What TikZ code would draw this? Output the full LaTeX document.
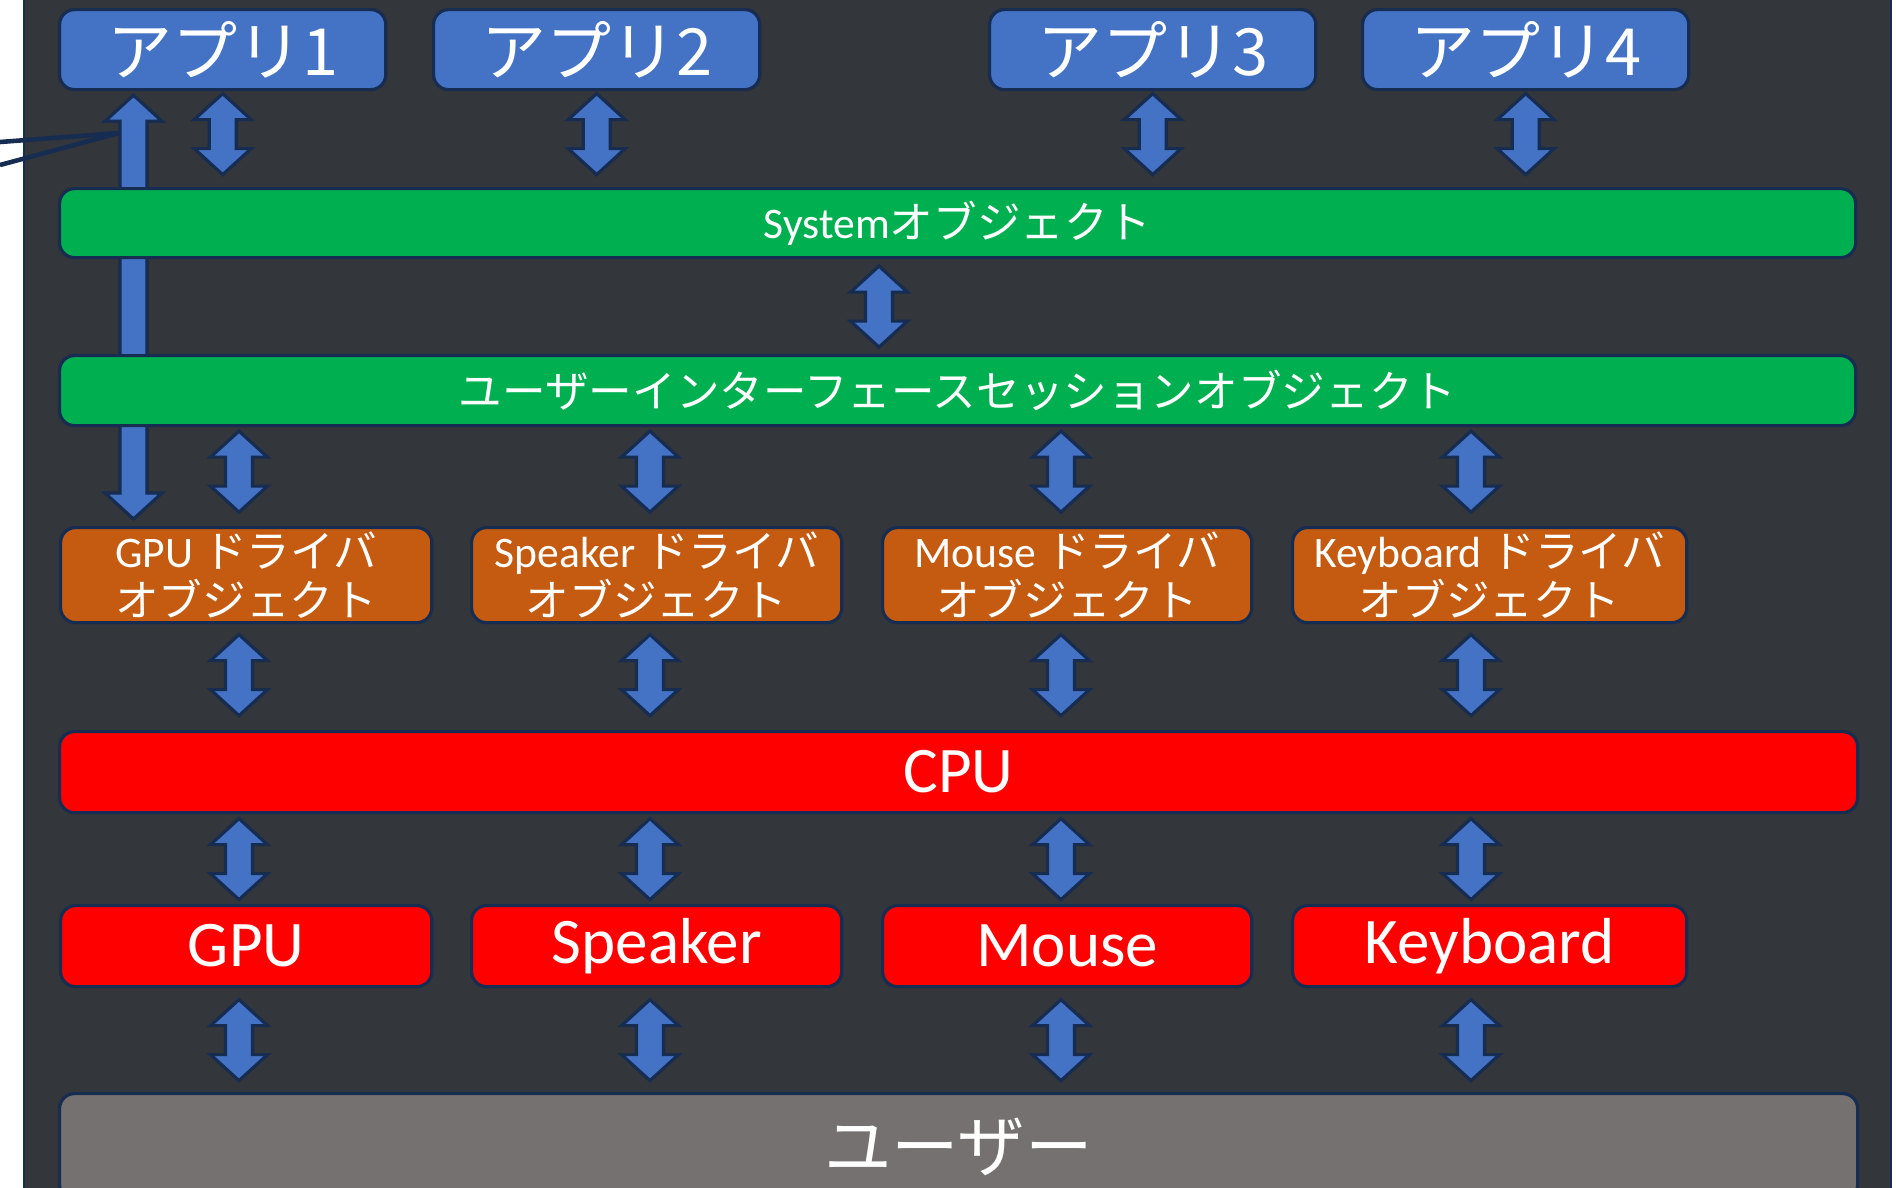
\documentclass[tikz,border=0pt]{standalone}
\usepackage{fontspec}
\setmainfont{Carlito}
\newfontfamily\jp{Noto Sans CJK JP}
\usetikzlibrary{calc}
\usetikzlibrary{positioning}

\definecolor{slate}{HTML}{33363A}
\definecolor{navy}{HTML}{172C51}
\definecolor{appblue}{HTML}{4472C4}
\definecolor{objgreen}{HTML}{00B050}
\definecolor{drvorange}{HTML}{C55A11}
\definecolor{hwred}{HTML}{FF0000}
\definecolor{usergray}{HTML}{767171}

\pgfdeclarelayer{background}
\pgfsetlayers{background,main}

\tikzset{
  box/.style={draw=navy, line width=0.9pt, rounded corners=0.15cm, inner sep=0pt, anchor=north west, text=white},
  appbox/.style={box, fill=appblue, minimum width=3.26cm, minimum height=0.8cm, font=\fontsize{18.5}{20}\selectfont\jp},
  objbar/.style={box, fill=objgreen, minimum width=17.95cm, minimum height=0.69cm, font=\fontsize{12.4}{14}\selectfont},
  drvbox/.style={box, fill=drvorange, minimum height=0.95cm, align=center, font=\fontsize{12.4}{13.9}\selectfont},
  hwbox/.style={box, fill=hwred, minimum height=0.81cm, font=\fontsize{18.5}{20}\selectfont},
  blockarrow/.style={fill=appblue, draw=navy, line width=0.9pt, line join=miter},
}

% up-down block arrow in the gap between two nodes, on the column of #2
\newcommand{\updown}[4][0]{%
  \coordinate (m) at ($(#2 |- #3.south)!.5!(#2 |- #4.north)$);
  \filldraw[blockarrow] ($(m)+(0,#1-40.5)$) -- ++(28.5,26) -- ++(-15,0) -- ++(0,29) -- ++(15,0)
    -- ++(-28.5,26) -- ++(-28.5,-26) -- ++(15,0) -- ++(0,-29) -- ++(-15,0) -- cycle;
}

\begin{document}
\begin{tikzpicture}[x=0.01cm, y=-0.01cm]
\useasboundingbox (0,0) rectangle (1896,1187);
\clip (0,0) rectangle (1896,1187);

% applications
\node[appbox] (app1) at (58,8) {アプリ1};
\node[appbox] (app2) at (432,8) {アプリ2};
\node[appbox] (app3) at (988,8) {アプリ3};
\node[appbox] (app4) at (1361,8) {アプリ4};

% objects
\node[objbar] (sys) at (58,187) {System{\jp オブジェクト}};
\node[objbar, minimum height=0.70cm, font=\fontsize{12.4}{14}\selectfont\jp] (ui) at (58,354) {ユーザーインターフェースセッションオブジェクト};

% drivers
\node[drvbox, minimum width=3.71cm] (gpudrv) at (59,526) {GPU {\jp ドライバ}\\{\jp オブジェクト}};
\node[drvbox, minimum width=3.70cm] (spkdrv) at (470,526) {Speaker {\jp ドライバ}\\{\jp オブジェクト}};
\node[drvbox, minimum width=3.69cm] (msedrv) at (881,526) {Mouse {\jp ドライバ}\\{\jp オブジェクト}};
\node[drvbox, minimum width=3.94cm] (kbddrv) at (1291,526) {Keyboard {\jp ドライバ}\\{\jp オブジェクト}};

% hardware
\node[hwbox, minimum width=17.97cm] (cpu) at (58,730) {CPU};
\node[hwbox, minimum width=3.71cm] (gpu) at (59,904) {GPU};
\node[hwbox, minimum width=3.70cm] (spk) at (470,904) {Speaker};
\node[hwbox, minimum width=3.69cm] (mse) at (881,904) {Mouse};
\node[hwbox, minimum width=3.94cm] (kbd) at (1291,904) {Keyboard};

\node[box, fill=usergray, minimum width=17.97cm, minimum height=1.06cm, font=\fontsize{19.2}{21}\selectfont\jp] (user) at (58,1092) {ユーザー};

% arrow columns
\coordinate (c1) at ($(gpudrv.north west)+(180,0)$);
\coordinate (c2) at ($(spkdrv.north west)+(180,0)$);
\coordinate (c3) at ($(msedrv.north west)+(180,0)$);
\coordinate (c4) at ($(kbddrv.north west)+(180,0)$);
\coordinate (mid) at (879,0);
\coordinate (link) at (133.5,0);

\foreach \a in {app1,app2,app3,app4} \updown[-5]{\a}{\a}{sys};
\updown{mid}{sys}{ui};
\foreach \c/\d/\h in {c1/gpudrv/gpu, c2/spkdrv/spk, c3/msedrv/mse, c4/kbddrv/kbd}{
  \updown[-5]{\c}{ui}{\d};
  \updown[-2]{\c}{\d}{cpu};
  \updown{\c}{cpu}{\h};
  \updown{\c}{\h}{user};
}

% callout tail
\draw[navy, line width=1.3pt] (0,142) -- (119,133) -- (0,165);

\begin{pgfonlayer}{background}
  \filldraw[fill=slate, draw=navy, line width=0.6pt] (24,-5) rectangle (1891,1200);
  % app1 <- session, behind the System bar
  \coordinate (lt) at ($(link |- app1.south)+(0,4)$);
  \coordinate (lb) at ($(link |- ui.north)+(0,3)$);
  \filldraw[blockarrow] (lt) -- ++(28.5,26) -- ++(-15,0) -- ($(lb)+(13.5,0)$) -- ++(-27,0)
    -- ($(lt)+(-13.5,26)$) -- ++(-15,0) -- cycle;
  % session -> GPU driver
  \coordinate (dt) at ($(link |- ui.south)+(0,-3)$);
  \coordinate (db) at ($(link |- gpudrv.north)+(0,-7)$);
  \filldraw[blockarrow] ($(dt)+(-13.5,0)$) -- ($(db)+(-13.5,-26)$) -- ++(-15,0) -- (db)
    -- ++(28.5,-26) -- ++(-15,0) -- ($(dt)+(13.5,0)$) -- cycle;
\end{pgfonlayer}
\end{tikzpicture}
\end{document}
